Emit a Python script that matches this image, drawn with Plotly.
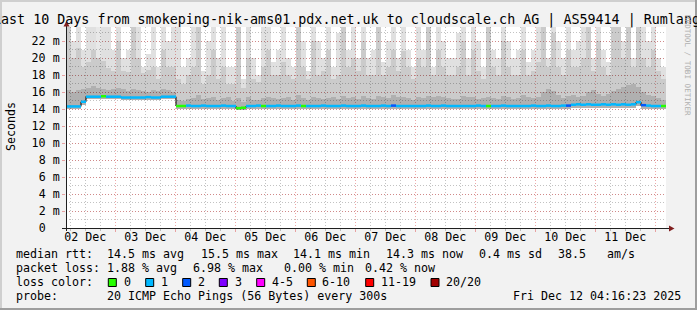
import plotly.graph_objects as go
import pandas as pd

# ---------------- data ----------------
start = pd.Timestamp("2025-12-02 04:16:23")
end = pd.Timestamp("2025-12-12 04:16:23")
BIN_HOURS = 2  # one value every 2 hours (120 bins over 10 days)

median_ms = [
    14.3, 14.3, 14.3, 14.85, 15.45, 15.45, 15.45, 15.5, 15.45, 15.45,
    15.45, 15.35, 15.35, 15.35, 15.35, 15.35, 15.4, 15.35, 15.35, 15.45,
    15.45, 15.45, 14.35, 14.35, 14.4, 14.35, 14.35, 14.4, 14.35, 14.35,
    14.35, 14.4, 14.35, 14.35, 14.1, 14.15, 14.35, 14.35, 14.4, 14.35,
    14.35, 14.35, 14.4, 14.35, 14.35, 14.35, 14.4, 14.35, 14.35, 14.35,
    14.35, 14.4, 14.35, 14.35, 14.35, 14.4, 14.35, 14.35, 14.35, 14.4,
    14.35, 14.35, 14.35, 14.4, 14.35, 14.4, 14.35, 14.35, 14.35, 14.35,
    14.35, 14.35, 14.4, 14.35, 14.35, 14.4, 14.35, 14.35, 14.35, 14.35,
    14.35, 14.35, 14.4, 14.35, 14.35, 14.35, 14.35, 14.4, 14.35, 14.35,
    14.35, 14.35, 14.35, 14.4, 14.35, 14.35, 14.4, 14.35, 14.35, 14.4,
    14.4, 14.5, 14.55, 14.5, 14.55, 14.5, 14.5, 14.55, 14.5, 14.55,
    14.5, 14.55, 14.5, 14.55, 14.8, 14.45, 14.4, 14.35, 14.35, 14.35,
]

loss_bucket = [
    1, 1, 1, 1, 1, 1, 1, 0, 1, 1,
    1, 1, 1, 1, 1, 1, 1, 1, 1, 1,
    1, 1, 0, 0, 1, 1, 1, 1, 1, 1,
    1, 1, 1, 1, 0, 0, 1, 1, 1, 0,
    1, 1, 1, 1, 1, 1, 1, 0, 1, 1,
    1, 1, 1, 1, 1, 1, 1, 1, 1, 1,
    1, 1, 1, 1, 1, 2, 1, 1, 1, 1,
    1, 1, 1, 1, 1, 1, 1, 1, 1, 1,
    1, 1, 1, 1, 0, 1, 1, 1, 1, 1,
    1, 1, 1, 1, 1, 1, 1, 1, 1, 1,
    2, 1, 1, 1, 1, 1, 1, 1, 1, 1,
    1, 1, 1, 1, 1, 2, 1, 1, 1, 0,
]

smoke_min = [
    14.0, 14.0, 14.0, 14.5, 15.2, 15.2, 15.2, 15.2, 15.2, 15.2,
    15.2, 15.1, 15.1, 15.1, 15.1, 15.1, 15.1, 15.1, 15.1, 15.2,
    15.2, 15.2, 14.0, 14.0, 14.0, 14.0, 14.0, 14.0, 14.0, 14.0,
    14.0, 14.0, 14.0, 14.0, 13.9, 13.9, 14.0, 14.0, 14.0, 14.0,
    14.0, 14.0, 14.0, 14.0, 14.0, 14.0, 14.0, 14.0, 14.0, 14.0,
    14.0, 14.0, 14.0, 14.0, 14.0, 14.0, 14.0, 14.0, 14.0, 14.0,
    14.0, 14.0, 14.0, 14.0, 14.0, 14.0, 14.0, 14.0, 14.0, 14.0,
    14.0, 14.0, 14.0, 14.0, 14.0, 14.0, 14.0, 14.0, 14.0, 14.0,
    14.0, 14.0, 14.0, 14.0, 14.0, 14.0, 14.0, 14.0, 14.0, 14.0,
    14.0, 14.0, 14.0, 14.0, 14.0, 14.0, 14.0, 14.0, 14.0, 14.0,
    14.0, 14.1, 14.1, 14.1, 14.1, 14.1, 14.1, 14.1, 14.1, 14.1,
    14.1, 14.1, 14.1, 14.1, 14.3, 14.0, 14.0, 14.0, 14.0, 14.0,
]

smoke_max = [
    26, 22, 26, 21, 26, 26, 20, 24, 26, 21,
    26, 20, 21, 26, 24, 19, 20.5, 26, 19, 26,
    22, 25, 26, 19, 20, 26, 26, 18.5, 22, 26,
    20, 26, 19, 19, 26, 17.5, 26, 20, 18, 26,
    26, 19.5, 21, 26, 20, 19, 26, 22, 18.5, 26,
    22, 20, 26, 19, 23, 26, 21, 26, 20, 26,
    20, 21, 26, 19.5, 22, 26, 20, 26, 21, 19,
    26, 21, 26, 19, 26, 22, 20, 20, 23, 26,
    20, 26, 22, 19, 26, 21, 20, 26, 22, 20,
    21, 26, 19.5, 21, 24, 26, 20, 26, 22, 20,
    26, 21, 22, 24, 26, 20, 26, 21, 19.5, 26,
    26, 22, 26, 20, 26, 24, 22, 26, 20, 19,
]

smoke_hi = [
    26, 20, 21.2, 19, 19.5, 21, 26, 19.7, 18.8, 18.5,
    22, 18.5, 18.4, 26, 20, 18.2, 18.6, 19, 17.5, 21,
    19, 19, 17.5, 17, 18, 19, 26, 17, 18, 21,
    17.5, 19, 17, 17, 26, 16.5, 20, 17.5, 17.2, 19,
    21, 18, 18, 19.5, 18, 17.5, 26, 19, 17.5, 22,
    18, 18.5, 21, 17.5, 18, 26, 19, 20, 18.5, 22,
    18, 18, 26, 18, 19, 21, 18.5, 20.8, 19, 17.5,
    20, 19, 26, 18, 21, 19, 18, 18, 19, 22,
    18, 21, 18.5, 17.5, 26, 19, 18, 22, 19, 18,
    18, 21, 18, 18.5, 19.5, 26, 19, 23, 19, 18,
    21, 19, 19, 20, 26, 18.5, 22, 19, 18, 24,
    26, 20, 24, 19, 26, 20, 19, 21, 18.5, 17.5,
]

smoke_mid = [
    16.2, 16.0, 16.2, 16.3, 16.5, 16.7, 16.5, 16.4, 16.2, 16.3,
    16.5, 16.4, 16.1, 16.3, 16.2, 16.1, 16.0, 16.2, 16.1, 16.3,
    16.2, 16.0, 15.1, 14.9, 15.2, 15.3, 15.6, 15.2, 15.3, 15.4,
    15.1, 15.3, 15.4, 15.0, 15.3, 14.8, 15.4, 15.1, 15.1, 15.3,
    15.4, 15.3, 15.2, 15.3, 15.4, 15.1, 15.6, 15.3, 15.1, 15.4,
    15.3, 15.2, 15.3, 15.4, 15.2, 15.5, 15.3, 15.4, 15.2, 15.5,
    15.3, 15.2, 15.5, 15.4, 15.3, 15.6, 15.4, 15.4, 15.3, 15.1,
    15.4, 15.3, 15.5, 15.4, 15.5, 15.4, 15.3, 15.2, 15.2, 15.5,
    15.4, 15.4, 15.2, 15.3, 15.4, 15.3, 15.2, 15.5, 15.4, 15.2,
    15.3, 15.6, 15.4, 15.3, 15.4, 16.0, 16.3, 16.1, 15.6, 15.3,
    15.5, 15.7, 15.4, 15.5, 16.0, 16.2, 15.8, 15.5, 15.8, 16.1,
    16.4, 16.6, 16.8, 17.0, 16.6, 16.0, 15.6, 15.5, 15.3, 15.1,
]

loss_names = ["0", "1", "2", "3", "4-5", "6-10", "11-19", "20/20"]
loss_colors = ["#26ff00", "#00b8ff", "#0059ff", "#7e00ff", "#ff00ff", "#ff5500", "#ff0000", "#a10000"]

y_tick_vals = [0, 2, 4, 6, 8, 10, 12, 14, 16, 18, 20, 22]
y_tick_text = ["0\u00a0\u00a0", "2 m", "4 m", "6 m", "8 m", "10 m", "12 m", "14 m",
               "16 m", "18 m", "20 m", "22 m"]
day_labels = ["02 Dec", "03 Dec", "04 Dec", "05 Dec", "06 Dec", "07 Dec",
              "08 Dec", "09 Dec", "10 Dec", "11 Dec"]
day_label_pos = [pd.Timestamp(f"2025-12-{d:02d} 12:00") for d in range(2, 12)]

title_text = "Last 10 Days from smokeping-nik-ams01.pdx.net.uk to cloudscale.ch AG | AS59414 | Rumlang"
row1 = [("median rtt:", 16), ("14.5 ms avg", 107.3), ("15.5 ms max", 201), ("14.1 ms min", 293.3),
        ("14.3 ms now", 386), ("0.4 ms sd", 479.3), ("38.5", 558.3), ("am/s", 607.3)]
row2 = [("packet loss:", 16), ("1.88 % avg", 107.3), ("6.98 % max", 192.7),
        ("0.00 % min", 284.3), ("0.42 % now", 365)]
row4 = [("probe:", 16), ("20 ICMP Echo Pings (56 Bytes) every 300s", 107.3),
        ("Fri Dec 12 04:16:23 2025", 513.3)]
loss_box_x = [108.3, 145.7, 182.7, 219.3, 256.7, 307.3, 365.7, 431]
loss_lab_x = [124, 161, 197.7, 234.7, 271.7, 322, 380.7, 445.7]

# ---------------- layout geometry ----------------
W, H = 697, 310
L, R, T, B = 66, 31, 27, 82
PW = W - L - R
PH = H - T - B
PX_PER_MS = 8.5
YMAX = PH / PX_PER_MS

FONT = "DejaVu Sans Mono"
FS = 11.65
BACK = "#f2f2f2"
SHADEA = "#cfcfcf"
SHADEB = "#9e9e9e"
GRID = "rgba(143,143,143,0.55)"
MGRID = "rgba(222,79,79,0.5)"
GDASH = "1px,2px"
ARROW = "#801f1f"
AXIS = "#1f1f1f"


def px(x):
    return (x - L) / PW


def py(y):
    return (H - B - y) / PH


n = len(median_ms)
step = pd.Timedelta(hours=BIN_HOURS)
centers = [start + step * (i + 0.5) for i in range(n)]
edges = [start + step * i for i in range(n + 1)]

fig = go.Figure()

# smoke layers
for layer, col in [(smoke_max, "rgba(0,0,0,0.12)"),
                   (smoke_hi, "rgba(0,0,0,0.09)"),
                   (smoke_mid, "rgba(0,0,0,0.13)")]:
    fig.add_trace(go.Bar(
        x=centers, y=[a - b for a, b in zip(layer, smoke_min)], base=smoke_min,
        width=step.total_seconds() * 1000,
        marker=dict(color=col, line=dict(width=0)),
        hoverinfo="skip", showlegend=False))

# black median step line
fig.add_trace(go.Scatter(
    x=edges, y=median_ms + [median_ms[-1]], mode="lines",
    line=dict(color="black", width=1, shape="hv"),
    hoverinfo="skip", showlegend=False))

# coloured median segments by loss bucket
for b, col in enumerate(loss_colors):
    xs, ys = [], []
    for i in range(n):
        if loss_bucket[i] == b:
            xs += [edges[i], edges[i + 1], None]
            ys += [median_ms[i], median_ms[i], None]
    if xs:
        fig.add_trace(go.Scatter(x=xs, y=ys, mode="lines",
                                 line=dict(color=col, width=2.5),
                                 hoverinfo="skip", showlegend=False))

# invisible trace for the label axis
fig.add_trace(go.Scatter(x=[day_label_pos[0]], y=[0], xaxis="x2", mode="markers",
                         marker=dict(opacity=0), hoverinfo="skip", showlegend=False))

shapes = []
# frame shades
shapes.append(dict(type="rect", xref="paper", yref="paper", x0=px(0), x1=px(W), y0=py(0), y1=py(2),
                   fillcolor=SHADEA, line=dict(width=0), layer="above"))
shapes.append(dict(type="rect", xref="paper", yref="paper", x0=px(0), x1=px(2), y0=py(0), y1=py(H),
                   fillcolor=SHADEA, line=dict(width=0), layer="above"))
shapes.append(dict(type="rect", xref="paper", yref="paper", x0=px(0), x1=px(W), y0=py(H - 2), y1=py(H),
                   fillcolor=SHADEB, line=dict(width=0), layer="above"))
shapes.append(dict(type="rect", xref="paper", yref="paper", x0=px(W - 2), x1=px(W), y0=py(0), y1=py(H),
                   fillcolor=SHADEB, line=dict(width=0), layer="above"))
# axis lines
shapes.append(dict(type="line", xref="paper", yref="paper", x0=px(66.5), x1=px(66.5), y0=py(231), y1=py(26),
                   line=dict(color=AXIS, width=1), layer="above"))
shapes.append(dict(type="line", xref="paper", yref="paper", x0=px(62), x1=px(670), y0=py(228.5), y1=py(228.5),
                   line=dict(color=AXIS, width=1), layer="above"))


def tri(pts):
    return "M " + " L ".join(f"{px(a):.5f},{py(b):.5f}" for a, b in pts) + " Z"


shapes.append(dict(type="path", xref="paper", yref="paper", path=tri([(63.5, 26.5), (69.5, 26.5), (66.5, 21)]),
                   fillcolor=ARROW, line=dict(width=0), layer="above"))
shapes.append(dict(type="path", xref="paper", yref="paper", path=tri([(669, 225.5), (669, 231.5), (674.5, 228.5)]),
                   fillcolor=ARROW, line=dict(width=0), layer="above"))

# loss colour boxes
for bx, col in zip(loss_box_x, loss_colors):
    shapes.append(dict(type="rect", xref="paper", yref="paper",
                       x0=px(bx), x1=px(bx + 8), y0=py(286.5), y1=py(278.5),
                       fillcolor=col, line=dict(color="black", width=1), layer="above"))

ann = []


def text(t, x, y, size=FS, anchor="left", color="black", angle=0):
    ann.append(dict(text=t, x=px(x), y=py(y), xref="paper", yref="paper", showarrow=False,
                    xanchor=anchor, yanchor="middle", textangle=angle,
                    font=dict(family=FONT, size=size, color=color), borderpad=0))


text(title_text, 346.5, 19.5, size=13.35, anchor="center")
for t, x in row1:
    text(t, x - 1, 254.3)
for t, x in row2:
    text(t, x - 1, 268.3)
text("loss color:", 15, 282.3)
for t, x in zip(loss_names, loss_lab_x):
    text(t, x - 1, 282.3)
for t, x in row4:
    text(t, x - 1, 296.3)
text("Seconds", 11, 127, anchor="center", angle=-90)
text("RRDTOOL / TOBI OETIKER", 688, 65, size=7.6, anchor="center", color="#b0b0b0", angle=90)

fig.update_layout(
    width=W, height=H,
    margin=dict(l=L, r=R, t=T, b=B, pad=0),
    paper_bgcolor=BACK, plot_bgcolor="white",
    barmode="overlay", bargap=0, showlegend=False,
    font=dict(family=FONT, size=FS, color="black"),
    shapes=shapes, annotations=ann,
    xaxis=dict(
        type="date", range=[start, end], fixedrange=True,
        showticklabels=False, showline=False, zeroline=False,
        tickmode="linear", tick0="2025-12-03 00:00", dtick=86400000,
        ticks="outside", ticklen=3, tickcolor=MGRID, tickwidth=1,
        showgrid=True, gridcolor=MGRID, gridwidth=1, griddash=GDASH,
        minor=dict(tickmode="linear", tick0="2025-12-02 06:00", dtick=21600000,
                   showgrid=True, gridcolor=GRID, gridwidth=1, griddash=GDASH,
                   ticks="outside", ticklen=2, tickcolor=GRID),
    ),
    xaxis2=dict(
        type="date", range=[start, end], overlaying="x", side="bottom", fixedrange=True,
        tickmode="array", tickvals=day_label_pos, ticktext=day_labels,
        showgrid=False, zeroline=False, showline=False, ticks="",
        tickfont=dict(family=FONT, size=FS, color="black"),
    ),
    yaxis=dict(
        range=[0, YMAX], fixedrange=True, showline=False, zeroline=False,
        tickmode="array", tickvals=y_tick_vals, ticktext=y_tick_text,
        ticks="outside", ticklen=3, tickcolor=MGRID, tickwidth=1,
        tickfont=dict(family=FONT, size=FS, color="black"),
        showgrid=True, gridcolor=MGRID, gridwidth=1, griddash=GDASH,
        minor=dict(tickmode="linear", tick0=0, dtick=1, showgrid=True,
                   gridcolor=GRID, gridwidth=1, griddash=GDASH),
    ),
)

fig.write_html("out.html", config={"displayModeBar": False})
